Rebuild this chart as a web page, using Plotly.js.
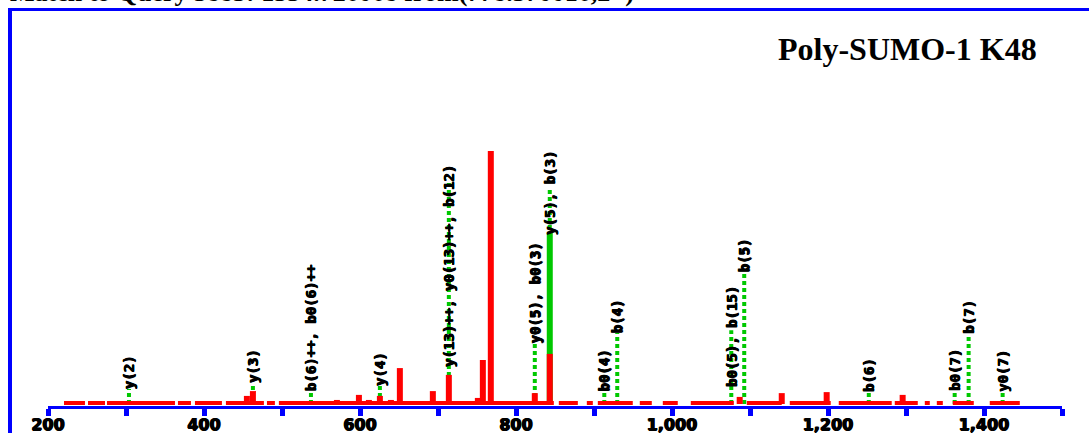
<!DOCTYPE html>
<html>
<head>
<meta charset="utf-8">
<script src="https://cdn.plot.ly/plotly-3.0.1.min.js"></script>
<style>
  html, body { margin:0; padding:0; background:#fff; overflow:hidden; }
  #wrap { position:relative; width:1089px; height:433px; overflow:hidden; }
  #chart { position:absolute; left:0; top:0; width:1089px; height:433px; }
  #frame { position:absolute; left:8px; top:8px; width:2000px; height:1000px;
           border-left:4px solid #0000ff; border-top:3px solid #0000ff; pointer-events:none; }
  #header { position:absolute; left:10px; top:-20px; white-space:nowrap;
            font-family:"Liberation Serif", serif; font-weight:bold; font-size:26px; line-height:26px; color:#000; }
</style>
</head>
<body>
<div id="wrap">
  <div id="chart"></div>
  <div id="header">Match to Query 3885: 1554.726068 from(778.370016,2+)</div>
  <div id="frame"></div>
</div>
<script>
// ---- data ----
const chartTitle = "Poly-SUMO-1 K48";

// red peaks (m/z, relative intensity %)
const peakMz  = [455.0, 462.7, 570.4, 598.6, 611.4, 625.5, 639.6, 651.1, 693.4, 713.9, 733.1, 751.1, 757.5, 767.7, 824.1, 843.3, 1086.8, 1140.7, 1198.3, 1295.7];
const peakInt = [3.2,   5.1,   1.6,   3.6,   1.6,   3.2,   1.6,   14.2,  5.1,   11.5,  1.2,   2.4,   17.4,  100,   4.3,   19.8,  2.8,    4.3,    4.7,    3.6];

// low-level noise runs along the baseline (start / end m/z)
const noiseStart = [220.5, 251.3, 275.6, 366.6, 388.4, 428.1, 480.7, 496.0, 854.9, 890.8, 904.9, 958.7, 988.2, 1024.1, 1095.9, 1151.0, 1213.8, 1285.6, 1324.1, 1339.5, 1360.0, 1407.4];
const noiseEnd   = [247.4, 273.1, 362.8, 383.3, 423.0, 476.8, 490.9, 848.5, 879.3, 898.5, 949.7, 974.1, 1007.4, 1079.2, 1140.7, 1203.5, 1281.7, 1315.1, 1330.5, 1347.2, 1386.9, 1445.9];

// matched-ion portion drawn in solid green
const greenBarMz  = [843.3];
const greenBarInt = [67.6];

// matched ion labels (m/z, text, level of label foot in %, top of the dotted connector in %)
const labelMz    = [303.8, 462.7, 537.1, 625.5, 713.9, 824.1, 843.3, 913.2, 929.8, 1076.0, 1092.6, 1252.3, 1362.4, 1380.3, 1423.9];
const labelText  = ["y(2)", "y(3)", "b(6)++, b0(6)++", "y(4)", "y(13)++, y0(13)++, b(12)", "y0(5), b0(3)", "y(5), b(3)", "b0(4)", "b(4)", "b0(5), b(15)", "b(5)", "b(6)", "b0(7)", "b(7)", "y0(7)"];
const labelLevel = [5.9, 8.3, 5.1, 7.1, 14.6, 24.1, 66.8, 5.1, 28.1, 6.7, 52.2, 4.7, 5.1, 27.7, 4.7];
const lineTop    = [5.9, 8.3, 5.1, 7.1, 88.5, 24.1, 84.6, 5.1, 28.1, 29.2, 52.2, 4.7, 5.1, 27.7, 4.7];

// x axis
const xRange = [200, 1500];

// ---- build traces ----
function segs(xs, y0s, y1s) {
  const x = [], y = [];
  for (let i = 0; i < xs.length; i++) { x.push(xs[i], xs[i], null); y.push(y0s[i], y1s[i], null); }
  return {x, y};
}
const RED = "#ff0000", GREEN = "#00c800", BLUE = "#0000ff";

const gb = segs(greenBarMz, greenBarMz.map(() => 0), greenBarInt);
const gd = segs(labelMz, labelMz.map(() => 0), lineTop);
const rp = segs(peakMz, peakMz.map(() => 0), peakInt);
const nx = [], ny = [];
for (let i = 0; i < noiseStart.length; i++) { nx.push(noiseStart[i], noiseEnd[i], null); ny.push(0.4, 0.4, null); }

const traces = [
  {type:"scatter", mode:"lines", x:gd.x, y:gd.y, line:{color:GREEN, width:4, dash:"4px,3px"}, hoverinfo:"skip", cliponaxis:false},
  {type:"scatter", mode:"lines", x:gb.x, y:gb.y, line:{color:GREEN, width:6}, hoverinfo:"skip", cliponaxis:false},
  {type:"scatter", mode:"lines", x:rp.x, y:rp.y, line:{color:RED, width:6}, hoverinfo:"skip", cliponaxis:false},
  {type:"scatter", mode:"lines", x:nx, y:ny, line:{color:RED, width:4}, hoverinfo:"skip", cliponaxis:false}
];

const heavy = "0.6px 0 0 #000, -0.6px 0 0 #000, 0 0.6px 0 #000";
const annotations = labelMz.map((m, i) => ({
  x: m, y: labelLevel[i], xref:"x", yref:"y",
  text: labelText[i], showarrow:false, textangle:-90,
  xanchor:"center", yanchor:"bottom", borderpad:0, borderwidth:0,
  font:{family:"DejaVu Sans Mono", size:14, color:"#000", weight:"bold", shadow:heavy}
}));
annotations.push({
  x:0.848, y:0.872, xref:"paper", yref:"paper", text:chartTitle, showarrow:false,
  xanchor:"center", yanchor:"bottom",
  font:{family:"Liberation Serif", size:32, color:"#000", weight:"bold"}
});

const layout = {
  width:1089, height:433,
  margin:{l:48, r:27, t:20, b:27, pad:0},
  paper_bgcolor:"rgba(0,0,0,0)", plot_bgcolor:"rgba(0,0,0,0)",
  showlegend:false, hovermode:false,
  xaxis:{
    range:xRange, showgrid:false, zeroline:false,
    showline:true, linecolor:BLUE, linewidth:3,
    ticks:"outside", ticklen:7, tickwidth:5, tickcolor:BLUE,
    tick0:200, dtick:200, tickformat:",d", ticklabelstandoff:-5,
    minor:{dtick:100, tick0:200, ticks:"outside", ticklen:7, tickwidth:5, tickcolor:BLUE, showgrid:false},
    tickfont:{family:"DejaVu Sans", size:16, color:"#000", weight:"bold", shadow:heavy}
  },
  yaxis:{visible:false, range:[-0.79, 151.8], fixedrange:true},
  annotations
};

Plotly.newPlot("chart", traces, layout, {staticPlot:true, displayModeBar:false});
</script>
</body>
</html>
